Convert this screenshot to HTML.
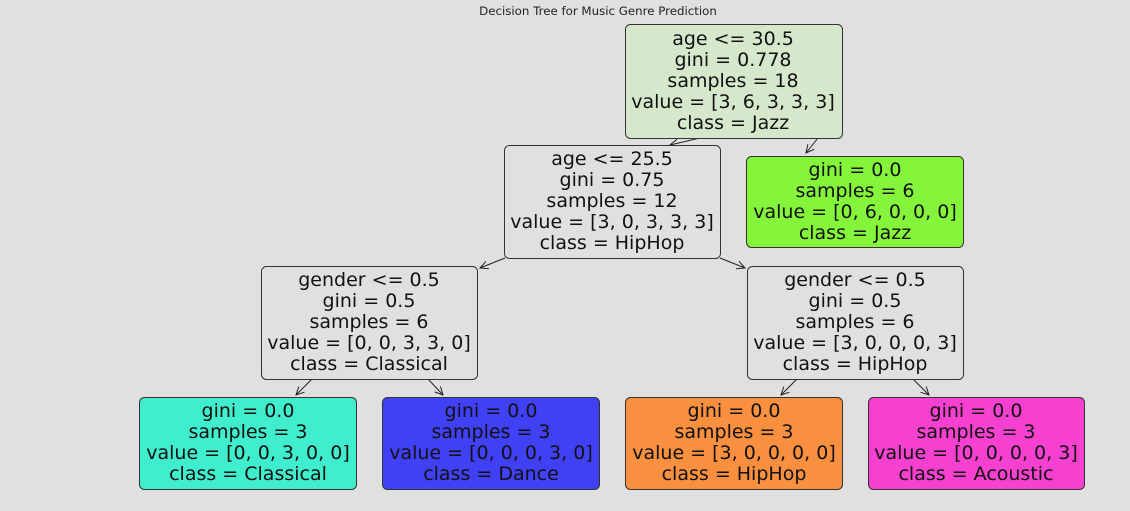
<!DOCTYPE html>
<html><head><meta charset="utf-8"><style>
html,body{margin:0;padding:0;background:#e0e0e0;}
svg{display:block;}
text{font-family:"DejaVu Sans","Liberation Sans",sans-serif;}
</style></head><body>
<svg width="1130" height="511" viewBox="0 0 1130 511" xmlns="http://www.w3.org/2000/svg">
<defs>
<marker id="a" markerWidth="10" markerHeight="10" refX="9" refY="5" orient="auto" markerUnits="userSpaceOnUse">
<path d="M1,1 L9,5 L1,9" fill="none" stroke="#222" stroke-width="1"/>
</marker>
</defs>
<rect width="1130" height="511" fill="#e0e0e0"/>
<text x="598" y="15" font-size="11.8" text-anchor="middle" fill="#222">Decision Tree for Music Genre Prediction</text>
<g stroke="#222" stroke-width="1" fill="none" marker-end="url(#a)">
<line x1="700" y1="138" x2="670" y2="145"/>
<line x1="818" y1="138" x2="806" y2="153"/>
<line x1="505" y1="258" x2="480" y2="268"/>
<line x1="720" y1="258" x2="745" y2="268"/>
<line x1="312" y1="379" x2="296" y2="395"/>
<line x1="428" y1="379" x2="443" y2="395"/>
<line x1="797" y1="379" x2="781" y2="395"/>
<line x1="913" y1="379" x2="929" y2="395"/>
</g>
<g stroke="#333" stroke-width="1">
<rect x="625.5" y="24.5" width="217" height="114" rx="5" fill="#d5e8cb"/>
<rect x="504.5" y="145.5" width="216" height="113" rx="5" fill="#e0e0e0"/>
<rect x="746.5" y="156.5" width="217" height="91" rx="5" fill="#85f53b"/>
<rect x="261.5" y="266.5" width="216" height="113" rx="5" fill="#e0e0e0"/>
<rect x="747.5" y="266.5" width="216" height="113" rx="5" fill="#e0e0e0"/>
<rect x="139.5" y="397.5" width="217" height="92" rx="5" fill="#40edcc"/>
<rect x="382.5" y="397.5" width="217" height="92" rx="5" fill="#4040f5"/>
<rect x="625.5" y="397.5" width="217" height="92" rx="5" fill="#f89040"/>
<rect x="868.5" y="397.5" width="216" height="92" rx="5" fill="#f540d0"/>
</g>
<g font-size="19" text-anchor="middle" fill="#111">
<text x="733" y="45">age &lt;= 30.5</text><text x="733" y="66">gini = 0.778</text><text x="733" y="87">samples = 18</text><text x="733" y="108">value = [3, 6, 3, 3, 3]</text><text x="733" y="129">class = Jazz</text>
<text x="612" y="165">age &lt;= 25.5</text><text x="612" y="186">gini = 0.75</text><text x="612" y="207">samples = 12</text><text x="612" y="228">value = [3, 0, 3, 3, 3]</text><text x="612" y="249">class = HipHop</text>
<text x="855" y="176">gini = 0.0</text><text x="855" y="197">samples = 6</text><text x="855" y="218">value = [0, 6, 0, 0, 0]</text><text x="855" y="239">class = Jazz</text>
<text x="369" y="286">gender &lt;= 0.5</text><text x="369" y="307">gini = 0.5</text><text x="369" y="328">samples = 6</text><text x="369" y="349">value = [0, 0, 3, 3, 0]</text><text x="369" y="370">class = Classical</text>
<text x="855" y="286">gender &lt;= 0.5</text><text x="855" y="307">gini = 0.5</text><text x="855" y="328">samples = 6</text><text x="855" y="349">value = [3, 0, 0, 0, 3]</text><text x="855" y="370">class = HipHop</text>
<text x="248" y="417">gini = 0.0</text><text x="248" y="438">samples = 3</text><text x="248" y="459">value = [0, 0, 3, 0, 0]</text><text x="248" y="480">class = Classical</text>
<text x="491" y="417">gini = 0.0</text><text x="491" y="438">samples = 3</text><text x="491" y="459">value = [0, 0, 0, 3, 0]</text><text x="491" y="480">class = Dance</text>
<text x="734" y="417">gini = 0.0</text><text x="734" y="438">samples = 3</text><text x="734" y="459">value = [3, 0, 0, 0, 0]</text><text x="734" y="480">class = HipHop</text>
<text x="976" y="417">gini = 0.0</text><text x="976" y="438">samples = 3</text><text x="976" y="459">value = [0, 0, 0, 0, 3]</text><text x="976" y="480">class = Acoustic</text>
</g>
</svg>
</body></html>
